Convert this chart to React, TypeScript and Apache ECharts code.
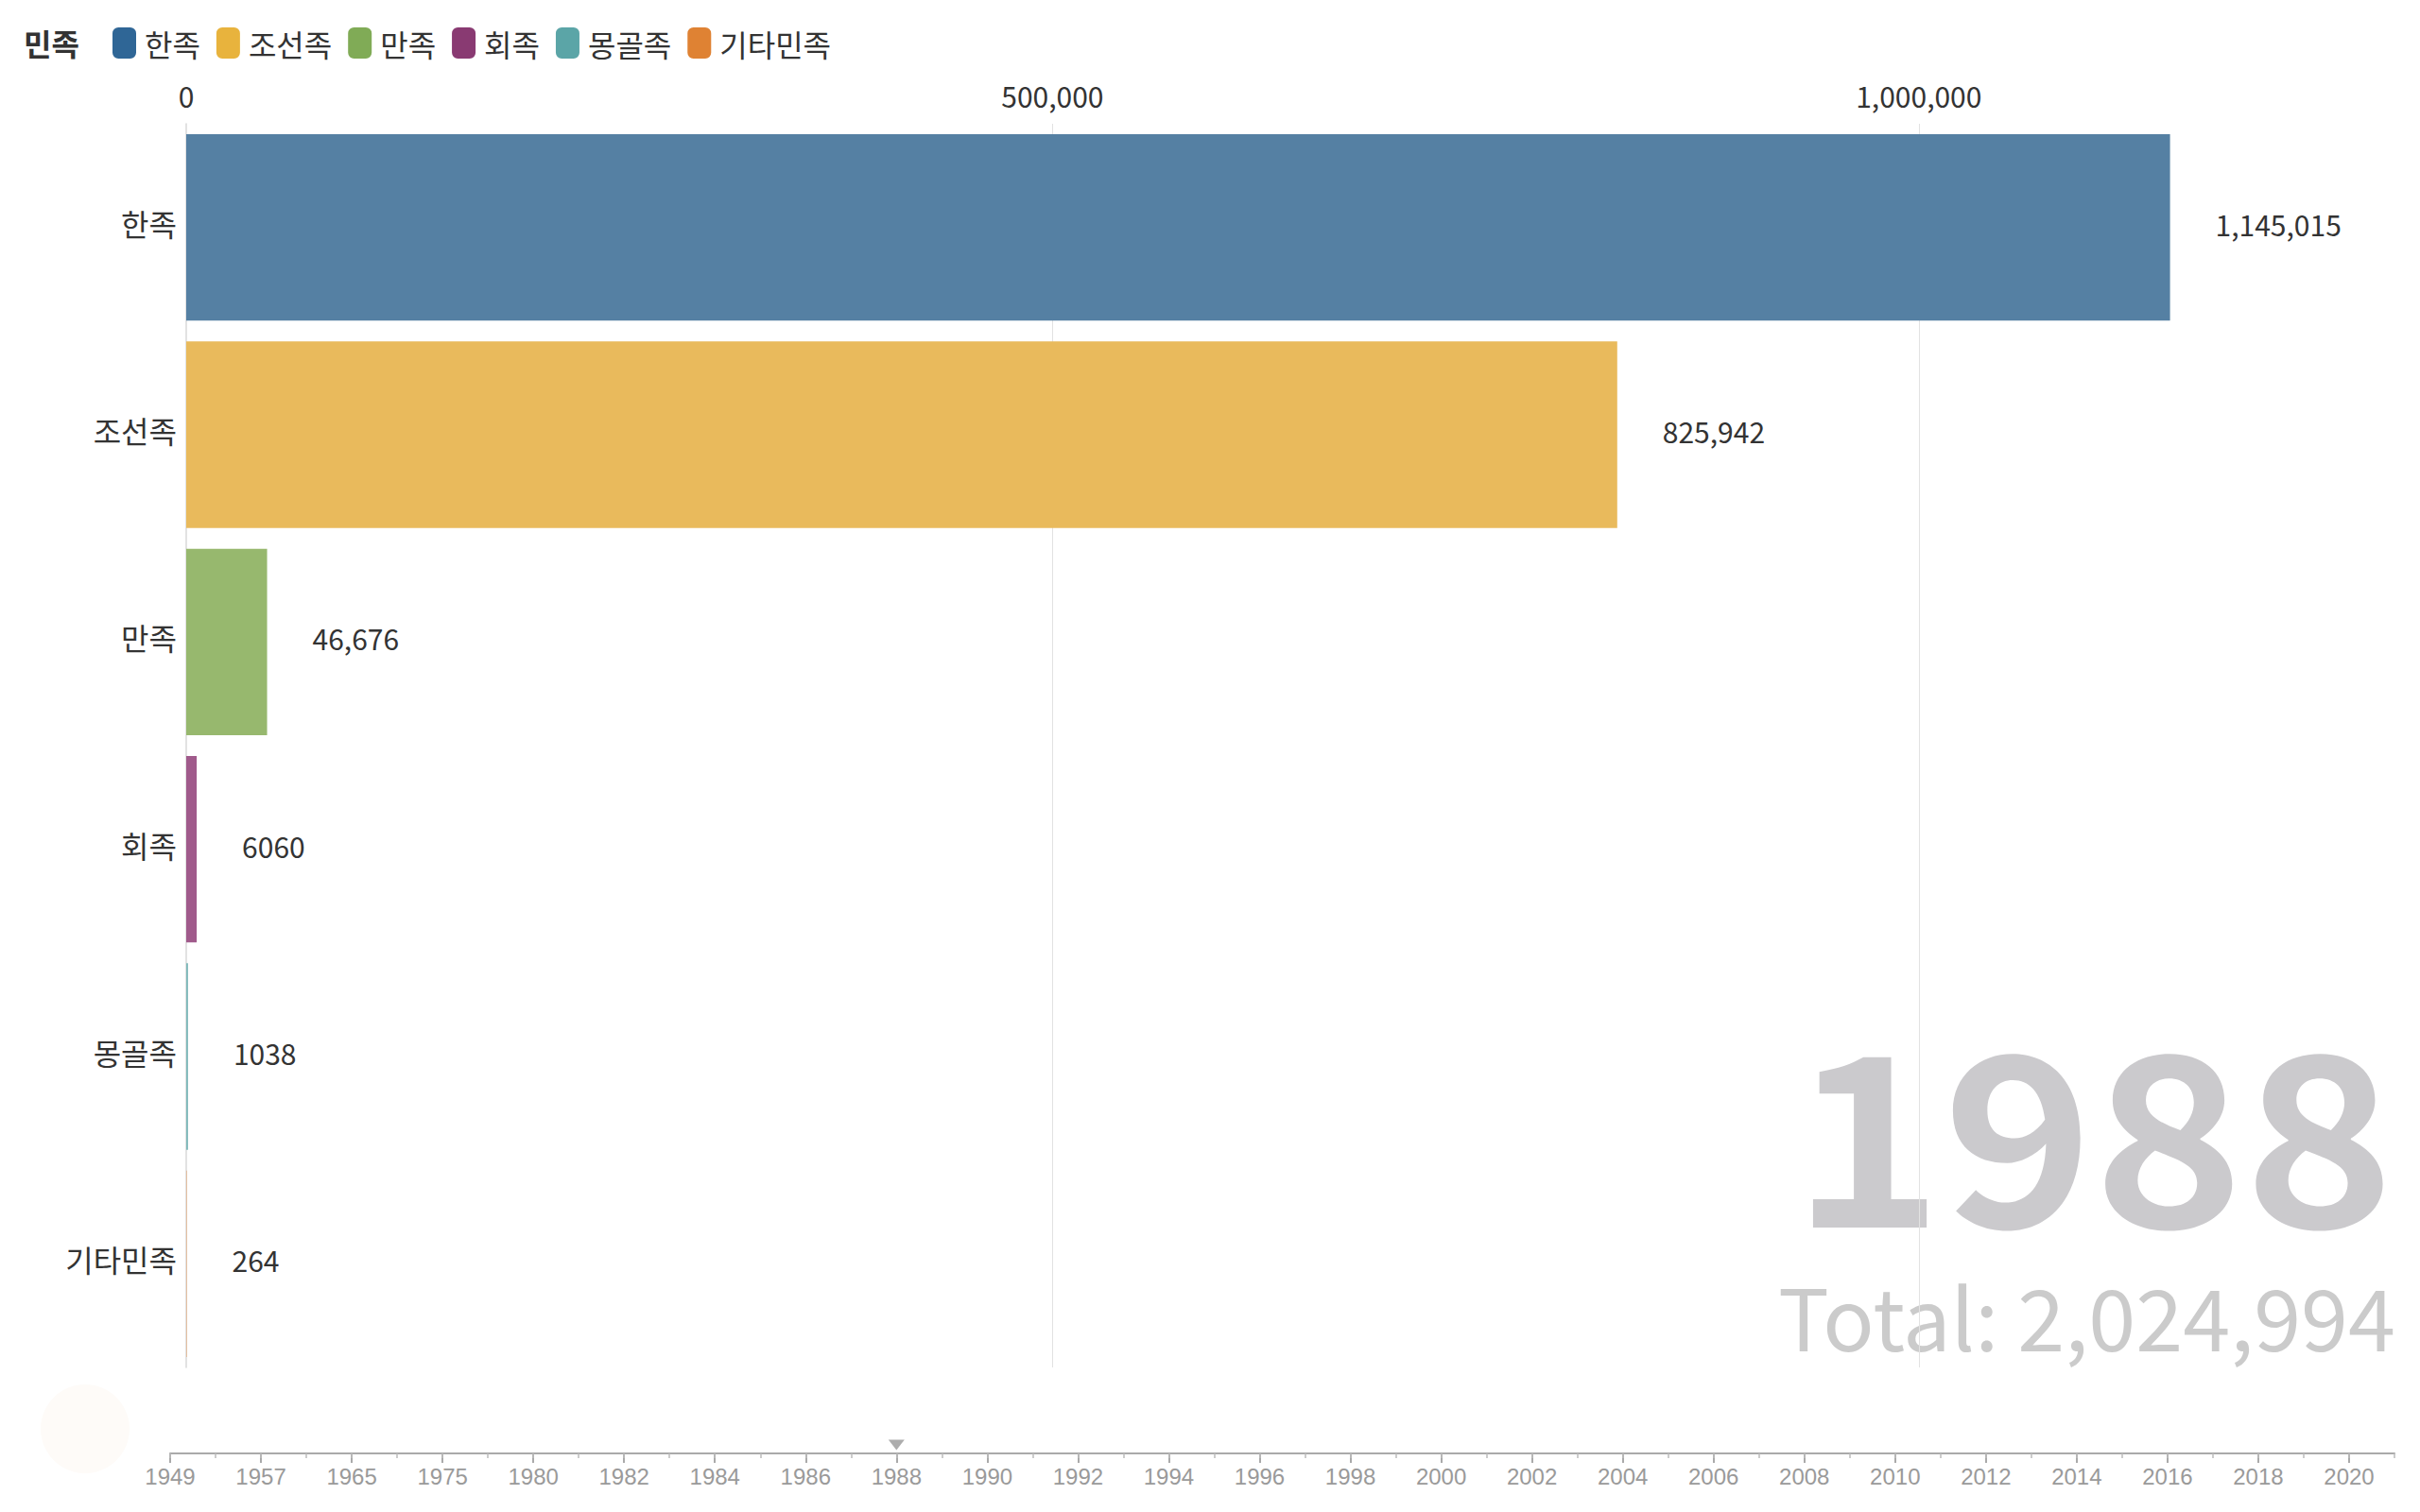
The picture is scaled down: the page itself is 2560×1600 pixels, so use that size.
import React, { useEffect, useRef } from "react";
import * as echarts from "echarts";

const categories = ["한족", "조선족", "만족", "회족", "몽골족", "기타민족"];
const values = [1145015, 825942, 46676, 6060, 1038, 264];
const legendColors = ["#2f6696", "#e8b33d", "#80ab56", "#893a72", "#5ba5a7", "#df8233"];
const barColors = ["#5580a3", "#e9ba5c", "#97b86e", "#a05a8b", "#7fb8ba", "#e69c5e"];
const xTicks = [0, 500000, 1000000];
const timelineYears = [
  "1949", "1953", "1957", "1961", "1965", "1970", "1975", "1978",
  "1980", "1981", "1982", "1983", "1984", "1985", "1986", "1987", "1988", "1989",
  "1990", "1991", "1992", "1993", "1994", "1995", "1996", "1997", "1998", "1999",
  "2000", "2001", "2002", "2003", "2004", "2005", "2006", "2007", "2008", "2009",
  "2010", "2011", "2012", "2013", "2014", "2015", "2016", "2017", "2018", "2019",
  "2020", "2021",
];
const currentYear = "1988";
const totalValue = 2024994;
const legendTitle = "민족";

const FONT = "'Noto Sans CJK KR', 'Noto Sans', sans-serif";

function fmt(v: number): string {
  return v >= 10000 ? v.toLocaleString("en-US") : String(v);
}

export default function App() {
  const ref = useRef<HTMLDivElement>(null);
  useEffect(() => {
    if (!ref.current) return;
    const chart = echarts.init(ref.current, null, { renderer: "svg" });
    const barSeries = categories.map((name, i) => ({
      type: "bar",
      name,
      stack: "all",
      xAxisIndex: 0,
      yAxisIndex: 0,
      barCategoryGap: "10%",
      itemStyle: { color: barColors[i] },
      label: {
        show: true,
        position: "right",
        distance: 48,
        offset: [0, -4],
        fontSize: 30,
        color: "#333",
        fontFamily: FONT,
        formatter: (p: any) => fmt(p.value),
      },
      data: categories.map((_, j) => (j === i ? values[i] : "-")),
      ...(i === 0
        ? {
            markLine: {
              silent: true,
              symbol: "none",
              z: 1,
              label: { show: false },
              lineStyle: { color: "#e2e2e2", type: "solid", width: 1 },
              data: xTicks.filter((v) => v > 0).map((v) => ({ xAxis: v })),
            },
          }
        : {}),
    }));
    chart.setOption({
      animation: false,
      backgroundColor: "#ffffff",
      textStyle: { fontFamily: FONT },
      title: {
        text: legendTitle,
        left: 25,
        top: 29,
        padding: 0,
        textStyle: { fontSize: 32, fontWeight: "bold", color: "#333", fontFamily: FONT },
      },
      legend: {
        left: 119,
        top: 29,
        padding: 0,
        icon: "roundRect",
        itemWidth: 25,
        itemHeight: 33,
        itemGap: 17,
        selectedMode: false,
        textStyle: { fontSize: 32, color: "#333", fontFamily: FONT, padding: [0, 0, 0, 4] },
        data: categories.map((c, i) => ({ name: c, itemStyle: { color: legendColors[i], opacity: 1 } })),
      },
      grid: [
        { left: 197, right: 72, top: 131, height: 1316 },
        { left: 180, right: 27, top: 1537, height: 1 },
      ],
      xAxis: [
        {
          type: "value",
          gridIndex: 0,
          position: "top",
          min: 0,
          max: 1250000,
          interval: 500000,
          axisLine: { show: false },
          axisTick: { show: false },
          splitLine: { show: false },
          axisLabel: {
            fontSize: 30,
            color: "#333",
            margin: 15,
            showMaxLabel: false,
            formatter: (v: number) => v.toLocaleString("en-US"),
          },
        },
        {
          type: "category",
          gridIndex: 1,
          data: timelineYears,
          boundaryGap: false,
          position: "bottom",
          axisLine: { lineStyle: { color: "#aaaaaa", width: 2 } },
          axisTick: { interval: 1, length: 10, lineStyle: { color: "#aaaaaa", width: 2 } },
          axisLabel: {
            interval: 1,
            fontSize: 24,
            color: "#9a9a9a",
            fontFamily: "'Liberation Sans', Arial, sans-serif",
            margin: 12,
          },
          splitLine: { show: false },
        },
        {
          type: "category",
          gridIndex: 1,
          data: timelineYears,
          boundaryGap: false,
          position: "bottom",
          axisLine: { show: false },
          axisTick: { interval: 0, length: 5, lineStyle: { color: "#bbbbbb", width: 1.5 } },
          axisLabel: { show: false },
          splitLine: { show: false },
        },
      ],
      yAxis: [
        {
          type: "category",
          gridIndex: 0,
          data: categories,
          inverse: true,
          axisLine: { show: true, lineStyle: { color: "#d8d8d8", width: 1.5 } },
          axisTick: { show: false },
          axisLabel: {
            fontSize: 32,
            color: "#333",
            margin: 10,
            verticalAlign: "bottom",
            lineHeight: 10,
          },
        },
        { type: "value", gridIndex: 1, min: 0, max: 1, show: false },
      ],
      series: [
        ...barSeries,
        {
          type: "scatter",
          name: "timeline-pointer",
          xAxisIndex: 1,
          yAxisIndex: 1,
          symbol: "triangle",
          symbolSize: [17, 11],
          symbolRotate: 180,
          symbolOffset: [0, -9],
          itemStyle: { color: "#999999" },
          data: [[currentYear, 0]],
        },
      ],
      graphic: [
        {
          type: "circle",
          shape: { cx: 90, cy: 1512, r: 47 },
          style: { fill: "#fefbf8" },
          silent: true,
        },
        {
          type: "text",
          x: 2533,
          y: 1065,
          scaleX: 1.08,
          style: {
            text: currentYear,
            x: 0,
            y: 0,
            font: `bold 250px ${FONT}`,
            fill: "#cbcacd",
            textAlign: "right",
            textVerticalAlign: "top",
            verticalAlign: "top",
            align: "right",
          },
          silent: true,
        },
        {
          type: "text",
          right: 26,
          top: 1346,
          style: {
            text: "Total: " + totalValue.toLocaleString("en-US"),
            font: `normal 90px ${FONT}`,
            fill: "#cbcbcb",
          },
          silent: true,
        },
      ],
    });
    return () => chart.dispose();
  }, []);
  return (
    <div
      ref={ref}
      style={{ position: "fixed", left: 0, top: 0, width: 2560, height: 1600, background: "#fff" }}
    />
  );
}
